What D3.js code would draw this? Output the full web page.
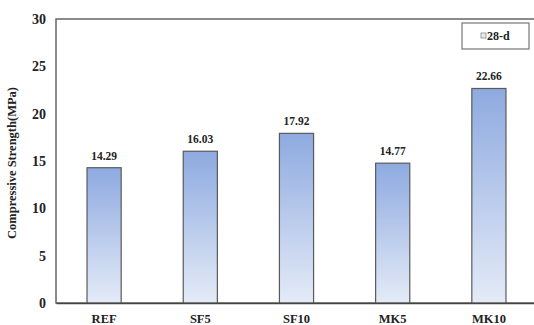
<!DOCTYPE html>
<html>
<head>
<meta charset="utf-8">
<script src="https://cdn.jsdelivr.net/npm/d3@7"></script>
<style>
  html, body { margin: 0; padding: 0; background: #fff; }
  svg { display: block; }
  svg text { font-family: "Liberation Serif", "Times New Roman", Times, serif !important; font-weight: bold; }
</style>
</head>
<body>
<div id="chart"></div>
<script>
// Compressive strength at 28 days for each mix
const mixes = ["REF", "SF5", "SF10", "MK5", "MK10"];
const strength28d = [14.29, 16.03, 17.92, 14.77, 22.66];
const yTicks = [0, 5, 10, 15, 20, 25, 30];
const legendLabel = "28-d";
const yTitle = "Compressive Strength(MPa)";

const W = 534, H = 325;
const margin = { top: 19, right: -3, bottom: 22, left: 56 };

const svg = d3.select("#chart").append("svg")
  .attr("width", W).attr("height", H);

const defs = svg.append("defs");
const grad = defs.append("linearGradient")
  .attr("id", "barFill").attr("x1", 0).attr("y1", 0).attr("x2", 0).attr("y2", 1);
grad.append("stop").attr("offset", "0%").attr("stop-color", "#8eaae0");
grad.append("stop").attr("offset", "100%").attr("stop-color", "#e4ebf7");

const x = d3.scaleBand()
  .domain(mixes)
  .range([margin.left, W - margin.right])
  .paddingInner(0.645).paddingOuter(0.3225);

const y = d3.scaleLinear()
  .domain([0, 30])
  .range([H - margin.bottom, margin.top]);

// plot frame (top and left edges visible, right edge falls outside)
svg.append("rect")
  .attr("x", margin.left).attr("y", y(30))
  .attr("width", W - margin.right - margin.left + 4)
  .attr("height", y(0) - y(30))
  .attr("fill", "none").attr("stroke", "#666").attr("stroke-width", 1.5);

const rows = mixes.map((m, i) => ({ m, v: strength28d[i] }));

// bars
svg.selectAll("rect.bar")
  .data(rows)
  .join("rect")
  .attr("class", "bar")
  .attr("x", d => x(d.m))
  .attr("y", d => y(d.v))
  .attr("width", x.bandwidth())
  .attr("height", d => y(0) - y(d.v))
  .attr("fill", "url(#barFill)")
  .attr("stroke", "#5a5a5a").attr("stroke-width", 1.2);

// value labels
svg.selectAll("text.val")
  .data(rows)
  .join("text")
  .attr("class", "val")
  .attr("x", d => x(d.m) + x.bandwidth() / 2)
  .attr("y", d => y(d.v) - 8)
  .attr("text-anchor", "middle")
  .attr("font-size", 11.5)
  .attr("fill", "#222")
  .text(d => d.v.toFixed(2));

// y axis
const yAxis = d3.axisLeft(y).tickValues(yTicks).tickSize(0).tickPadding(10);
const gy = svg.append("g").attr("transform", `translate(${margin.left},0)`).call(yAxis);
gy.select(".domain").remove();
gy.selectAll("text").attr("font-size", 14).attr("fill", "#222");

// x axis
const xAxis = d3.axisBottom(x).tickSize(0).tickPadding(11);
const gx = svg.append("g").attr("transform", `translate(0,${y(0)})`).call(xAxis);
gx.select(".domain").attr("stroke", "#444").attr("stroke-width", 1.5);
gx.selectAll("text").attr("font-size", 12.5).attr("fill", "#222");

// y axis title
svg.append("text")
  .attr("transform", `translate(16,${(y(0) + y(30)) / 2 + 2}) rotate(-90)`)
  .attr("text-anchor", "middle")
  .attr("font-size", 12.5)
  .attr("fill", "#222")
  .text(yTitle);

// legend
const lg = svg.append("g").attr("transform", "translate(462,23)");
lg.append("rect").attr("width", 67).attr("height", 26)
  .attr("fill", "#fff").attr("stroke", "#777").attr("stroke-width", 1.2);
lg.append("rect").attr("x", 19).attr("y", 10).attr("width", 5).attr("height", 5)
  .attr("fill", "#e4ebf7").attr("stroke", "#888").attr("stroke-width", 0.8);
lg.append("text").attr("x", 25).attr("y", 16.5)
  .attr("font-size", 12).attr("fill", "#222").text(legendLabel);
</script>
</body>
</html>
